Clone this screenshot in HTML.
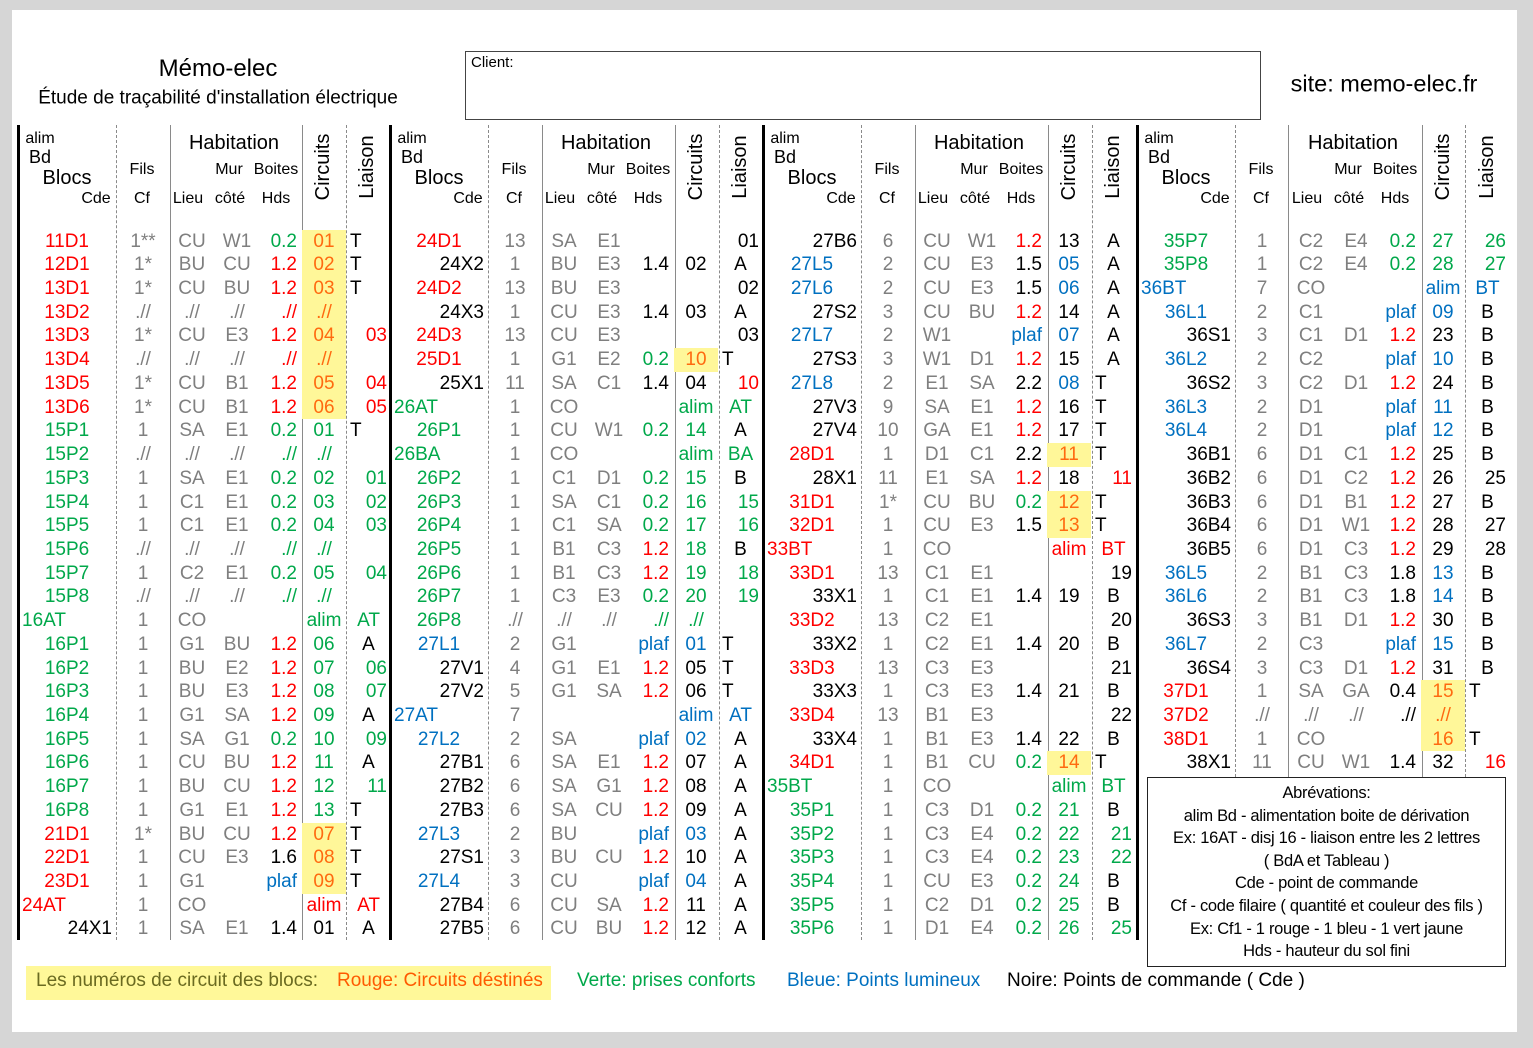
<!DOCTYPE html>
<html><head><meta charset="utf-8">
<style>
*{margin:0;padding:0;box-sizing:border-box}
html,body{width:1533px;height:1048px;background:#d6d6d6;overflow:hidden}
body{position:relative;font-family:"Liberation Sans",sans-serif;color:#000}
#pg{position:absolute;left:12px;top:10px;width:1505px;height:1022px;background:#fff}
.t{position:absolute;white-space:nowrap;transform:translate(-50%,-50%);line-height:1}
.g0{position:absolute;top:0;height:1048px;width:374px}
.vl{position:absolute;top:125px;height:815px}
.thk{width:3px;background:#000;margin-left:-1px}
.ds{border-left:1px dashed #8a8a8a}
.so{border-left:1px solid #8a8a8a}
.rows{position:absolute;top:229.6px;left:0}
.w{display:flex;height:23.72px;line-height:23.72px;font-size:19px;white-space:nowrap}
.w i{font-style:normal;display:block;height:23.72px;overflow:visible}
.a{width:98px;text-align:center}
.f{width:54px;text-align:center;color:#7f7f7f}
.l{width:44px;text-align:center;color:#7f7f7f}
.m{width:46px;text-align:center;color:#7f7f7f}
.h{width:42px;text-align:right;padding-right:5px}
.c{width:44px;text-align:center}
.z{width:45px;text-align:center}
.L{text-align:left!important;padding-left:4px}
.R{text-align:right!important;padding-right:4px}
.r{color:#ff0000}.g{color:#00a84a}.b{color:#0070c0}.k{color:#000}.o{color:#ff6a10}
.y{background:#fff799}
.rot{position:absolute;white-space:nowrap;font-size:20px;line-height:1;transform:translate(-50%,-50%) rotate(-90deg)}
</style></head><body>
<div id="pg"></div>

<div class="t" style="left:218px;top:69px;font-size:24px">Mémo-elec</div>
<div class="t" style="left:218px;top:98px;font-size:19px">Étude de traçabilité d'installation électrique</div>
<div style="position:absolute;left:465px;top:51px;width:796px;height:69px;border:1px solid #444"></div>
<div style="position:absolute;left:471px;top:55px;font-size:15px;line-height:1">Client:</div>
<div class="t" style="left:1384px;top:84px;font-size:23.5px">site: memo-elec.fr</div>

<div class="g0" style="left:18px">
<div class="vl thk" style="left:0"></div><div class="vl ds" style="left:98px"></div><div class="vl so" style="left:152px"></div><div class="vl so" style="left:284px"></div><div class="vl ds" style="left:328px"></div>
<div class="t" style="left:22px;top:139px;font-size:16px">alim</div>
<div class="t" style="left:22px;top:157px;font-size:18px">Bd</div>
<div class="t" style="left:49px;top:178px;font-size:20px">Blocs</div>
<div class="t" style="left:78px;top:199px;font-size:16px">Cde</div>
<div class="t" style="left:124px;top:170px;font-size:16px">Fils</div>
<div class="t" style="left:124px;top:199px;font-size:16px">Cf</div>
<div class="t" style="left:216px;top:143px;font-size:20px">Habitation</div>
<div class="t" style="left:211px;top:170px;font-size:16px">Mur</div>
<div class="t" style="left:258px;top:170px;font-size:16px">Boites</div>
<div class="t" style="left:170px;top:199px;font-size:16px">Lieu</div>
<div class="t" style="left:212px;top:199px;font-size:16px">côté</div>
<div class="t" style="left:258px;top:199px;font-size:16px">Hds</div>
<div class="rot" style="left:305px;top:167px">Circuits</div>
<div class="rot" style="left:349px;top:167px">Liaison</div>
<div class="rows">
<div class=w><i class="a r">11D1</i><i class=f>1**</i><i class=l>CU</i><i class=m>W1</i><i class="h g">0.2</i><i class="c o y">01</i><i class="z L">T</i></div>
<div class=w><i class="a r">12D1</i><i class=f>1*</i><i class=l>BU</i><i class=m>CU</i><i class="h r">1.2</i><i class="c o y">02</i><i class="z L">T</i></div>
<div class=w><i class="a r">13D1</i><i class=f>1*</i><i class=l>CU</i><i class=m>BU</i><i class="h r">1.2</i><i class="c o y">03</i><i class="z L">T</i></div>
<div class=w><i class="a r">13D2</i><i class=f>.//</i><i class=l>.//</i><i class=m>.//</i><i class="h r">.//</i><i class="c o y">.//</i><i class=z></i></div>
<div class=w><i class="a r">13D3</i><i class=f>1*</i><i class=l>CU</i><i class=m>E3</i><i class="h r">1.2</i><i class="c o y">04</i><i class="z R r">03</i></div>
<div class=w><i class="a r">13D4</i><i class=f>.//</i><i class=l>.//</i><i class=m>.//</i><i class="h r">.//</i><i class="c o y">.//</i><i class=z></i></div>
<div class=w><i class="a r">13D5</i><i class=f>1*</i><i class=l>CU</i><i class=m>B1</i><i class="h r">1.2</i><i class="c o y">05</i><i class="z R r">04</i></div>
<div class=w><i class="a r">13D6</i><i class=f>1*</i><i class=l>CU</i><i class=m>B1</i><i class="h r">1.2</i><i class="c o y">06</i><i class="z R r">05</i></div>
<div class=w><i class="a g">15P1</i><i class=f>1</i><i class=l>SA</i><i class=m>E1</i><i class="h g">0.2</i><i class="c g">01</i><i class="z L">T</i></div>
<div class=w><i class="a g">15P2</i><i class=f>.//</i><i class=l>.//</i><i class=m>.//</i><i class="h g">.//</i><i class="c g">.//</i><i class=z></i></div>
<div class=w><i class="a g">15P3</i><i class=f>1</i><i class=l>SA</i><i class=m>E1</i><i class="h g">0.2</i><i class="c g">02</i><i class="z R g">01</i></div>
<div class=w><i class="a g">15P4</i><i class=f>1</i><i class=l>C1</i><i class=m>E1</i><i class="h g">0.2</i><i class="c g">03</i><i class="z R g">02</i></div>
<div class=w><i class="a g">15P5</i><i class=f>1</i><i class=l>C1</i><i class=m>E1</i><i class="h g">0.2</i><i class="c g">04</i><i class="z R g">03</i></div>
<div class=w><i class="a g">15P6</i><i class=f>.//</i><i class=l>.//</i><i class=m>.//</i><i class="h g">.//</i><i class="c g">.//</i><i class=z></i></div>
<div class=w><i class="a g">15P7</i><i class=f>1</i><i class=l>C2</i><i class=m>E1</i><i class="h g">0.2</i><i class="c g">05</i><i class="z R g">04</i></div>
<div class=w><i class="a g">15P8</i><i class=f>.//</i><i class=l>.//</i><i class=m>.//</i><i class="h g">.//</i><i class="c g">.//</i><i class=z></i></div>
<div class=w><i class="a g L">16AT</i><i class=f>1</i><i class=l>CO</i><i class=m></i><i class=h></i><i class="c g">alim</i><i class="z g">AT</i></div>
<div class=w><i class="a g">16P1</i><i class=f>1</i><i class=l>G1</i><i class=m>BU</i><i class="h r">1.2</i><i class="c g">06</i><i class=z>A</i></div>
<div class=w><i class="a g">16P2</i><i class=f>1</i><i class=l>BU</i><i class=m>E2</i><i class="h r">1.2</i><i class="c g">07</i><i class="z R g">06</i></div>
<div class=w><i class="a g">16P3</i><i class=f>1</i><i class=l>BU</i><i class=m>E3</i><i class="h r">1.2</i><i class="c g">08</i><i class="z R g">07</i></div>
<div class=w><i class="a g">16P4</i><i class=f>1</i><i class=l>G1</i><i class=m>SA</i><i class="h r">1.2</i><i class="c g">09</i><i class=z>A</i></div>
<div class=w><i class="a g">16P5</i><i class=f>1</i><i class=l>SA</i><i class=m>G1</i><i class="h g">0.2</i><i class="c g">10</i><i class="z R g">09</i></div>
<div class=w><i class="a g">16P6</i><i class=f>1</i><i class=l>CU</i><i class=m>BU</i><i class="h r">1.2</i><i class="c g">11</i><i class=z>A</i></div>
<div class=w><i class="a g">16P7</i><i class=f>1</i><i class=l>BU</i><i class=m>CU</i><i class="h r">1.2</i><i class="c g">12</i><i class="z R g">11</i></div>
<div class=w><i class="a g">16P8</i><i class=f>1</i><i class=l>G1</i><i class=m>E1</i><i class="h r">1.2</i><i class="c g">13</i><i class="z L">T</i></div>
<div class=w><i class="a r">21D1</i><i class=f>1*</i><i class=l>BU</i><i class=m>CU</i><i class="h r">1.2</i><i class="c o y">07</i><i class="z L">T</i></div>
<div class=w><i class="a r">22D1</i><i class=f>1</i><i class=l>CU</i><i class=m>E3</i><i class="h k">1.6</i><i class="c o y">08</i><i class="z L">T</i></div>
<div class=w><i class="a r">23D1</i><i class=f>1</i><i class=l>G1</i><i class=m></i><i class="h b">plaf</i><i class="c o y">09</i><i class="z L">T</i></div>
<div class=w><i class="a r L">24AT</i><i class=f>1</i><i class=l>CO</i><i class=m></i><i class=h></i><i class="c r">alim</i><i class="z r">AT</i></div>
<div class=w><i class="a R">24X1</i><i class=f>1</i><i class=l>SA</i><i class=m>E1</i><i class=h>1.4</i><i class=c>01</i><i class=z>A</i></div>
</div></div>

<div class="g0" style="left:390px">
<div class="vl thk" style="left:0"></div><div class="vl ds" style="left:98px"></div><div class="vl so" style="left:152px"></div><div class="vl so" style="left:285px"></div><div class="vl ds" style="left:329px"></div>
<div class="t" style="left:22px;top:139px;font-size:16px">alim</div>
<div class="t" style="left:22px;top:157px;font-size:18px">Bd</div>
<div class="t" style="left:49px;top:178px;font-size:20px">Blocs</div>
<div class="t" style="left:78px;top:199px;font-size:16px">Cde</div>
<div class="t" style="left:124px;top:170px;font-size:16px">Fils</div>
<div class="t" style="left:124px;top:199px;font-size:16px">Cf</div>
<div class="t" style="left:216px;top:143px;font-size:20px">Habitation</div>
<div class="t" style="left:211px;top:170px;font-size:16px">Mur</div>
<div class="t" style="left:258px;top:170px;font-size:16px">Boites</div>
<div class="t" style="left:170px;top:199px;font-size:16px">Lieu</div>
<div class="t" style="left:212px;top:199px;font-size:16px">côté</div>
<div class="t" style="left:258px;top:199px;font-size:16px">Hds</div>
<div class="rot" style="left:306px;top:167px">Circuits</div>
<div class="rot" style="left:350px;top:167px">Liaison</div>
<div class="rows">
<div class=w><i class="a r">24D1</i><i class=f>13</i><i class=l>SA</i><i class=m>E1</i><i class=h></i><i class=c></i><i class="z R">01</i></div>
<div class=w><i class="a R">24X2</i><i class=f>1</i><i class=l>BU</i><i class=m>E3</i><i class=h>1.4</i><i class=c>02</i><i class=z>A</i></div>
<div class=w><i class="a r">24D2</i><i class=f>13</i><i class=l>BU</i><i class=m>E3</i><i class=h></i><i class=c></i><i class="z R">02</i></div>
<div class=w><i class="a R">24X3</i><i class=f>1</i><i class=l>CU</i><i class=m>E3</i><i class=h>1.4</i><i class=c>03</i><i class=z>A</i></div>
<div class=w><i class="a r">24D3</i><i class=f>13</i><i class=l>CU</i><i class=m>E3</i><i class=h></i><i class=c></i><i class="z R">03</i></div>
<div class=w><i class="a r">25D1</i><i class=f>1</i><i class=l>G1</i><i class=m>E2</i><i class="h g">0.2</i><i class="c o y">10</i><i class="z L">T</i></div>
<div class=w><i class="a R">25X1</i><i class=f>11</i><i class=l>SA</i><i class=m>C1</i><i class=h>1.4</i><i class=c>04</i><i class="z R r">10</i></div>
<div class=w><i class="a g L">26AT</i><i class=f>1</i><i class=l>CO</i><i class=m></i><i class=h></i><i class="c g">alim</i><i class="z g">AT</i></div>
<div class=w><i class="a g">26P1</i><i class=f>1</i><i class=l>CU</i><i class=m>W1</i><i class="h g">0.2</i><i class="c g">14</i><i class=z>A</i></div>
<div class=w><i class="a g L">26BA</i><i class=f>1</i><i class=l>CO</i><i class=m></i><i class=h></i><i class="c g">alim</i><i class="z g">BA</i></div>
<div class=w><i class="a g">26P2</i><i class=f>1</i><i class=l>C1</i><i class=m>D1</i><i class="h g">0.2</i><i class="c g">15</i><i class=z>B</i></div>
<div class=w><i class="a g">26P3</i><i class=f>1</i><i class=l>SA</i><i class=m>C1</i><i class="h g">0.2</i><i class="c g">16</i><i class="z R g">15</i></div>
<div class=w><i class="a g">26P4</i><i class=f>1</i><i class=l>C1</i><i class=m>SA</i><i class="h g">0.2</i><i class="c g">17</i><i class="z R g">16</i></div>
<div class=w><i class="a g">26P5</i><i class=f>1</i><i class=l>B1</i><i class=m>C3</i><i class="h r">1.2</i><i class="c g">18</i><i class=z>B</i></div>
<div class=w><i class="a g">26P6</i><i class=f>1</i><i class=l>B1</i><i class=m>C3</i><i class="h r">1.2</i><i class="c g">19</i><i class="z R g">18</i></div>
<div class=w><i class="a g">26P7</i><i class=f>1</i><i class=l>C3</i><i class=m>E3</i><i class="h g">0.2</i><i class="c g">20</i><i class="z R g">19</i></div>
<div class=w><i class="a g">26P8</i><i class=f>.//</i><i class=l>.//</i><i class=m>.//</i><i class="h g">.//</i><i class="c g">.//</i><i class=z></i></div>
<div class=w><i class="a b">27L1</i><i class=f>2</i><i class=l>G1</i><i class=m></i><i class="h b">plaf</i><i class="c b">01</i><i class="z L">T</i></div>
<div class=w><i class="a R">27V1</i><i class=f>4</i><i class=l>G1</i><i class=m>E1</i><i class="h r">1.2</i><i class=c>05</i><i class="z L">T</i></div>
<div class=w><i class="a R">27V2</i><i class=f>5</i><i class=l>G1</i><i class=m>SA</i><i class="h r">1.2</i><i class=c>06</i><i class="z L">T</i></div>
<div class=w><i class="a b L">27AT</i><i class=f>7</i><i class=l></i><i class=m></i><i class=h></i><i class="c b">alim</i><i class="z b">AT</i></div>
<div class=w><i class="a b">27L2</i><i class=f>2</i><i class=l>SA</i><i class=m></i><i class="h b">plaf</i><i class="c b">02</i><i class=z>A</i></div>
<div class=w><i class="a R">27B1</i><i class=f>6</i><i class=l>SA</i><i class=m>E1</i><i class="h r">1.2</i><i class=c>07</i><i class=z>A</i></div>
<div class=w><i class="a R">27B2</i><i class=f>6</i><i class=l>SA</i><i class=m>G1</i><i class="h r">1.2</i><i class=c>08</i><i class=z>A</i></div>
<div class=w><i class="a R">27B3</i><i class=f>6</i><i class=l>SA</i><i class=m>CU</i><i class="h r">1.2</i><i class=c>09</i><i class=z>A</i></div>
<div class=w><i class="a b">27L3</i><i class=f>2</i><i class=l>BU</i><i class=m></i><i class="h b">plaf</i><i class="c b">03</i><i class=z>A</i></div>
<div class=w><i class="a R">27S1</i><i class=f>3</i><i class=l>BU</i><i class=m>CU</i><i class="h r">1.2</i><i class=c>10</i><i class=z>A</i></div>
<div class=w><i class="a b">27L4</i><i class=f>3</i><i class=l>CU</i><i class=m></i><i class="h b">plaf</i><i class="c b">04</i><i class=z>A</i></div>
<div class=w><i class="a R">27B4</i><i class=f>6</i><i class=l>CU</i><i class=m>SA</i><i class="h r">1.2</i><i class=c>11</i><i class=z>A</i></div>
<div class=w><i class="a R">27B5</i><i class=f>6</i><i class=l>CU</i><i class=m>BU</i><i class="h r">1.2</i><i class=c>12</i><i class=z>A</i></div>
</div></div>

<div class="g0" style="left:763px">
<div class="vl thk" style="left:0"></div><div class="vl ds" style="left:98px"></div><div class="vl so" style="left:152px"></div><div class="vl so" style="left:285px"></div><div class="vl ds" style="left:329px"></div>
<div class="t" style="left:22px;top:139px;font-size:16px">alim</div>
<div class="t" style="left:22px;top:157px;font-size:18px">Bd</div>
<div class="t" style="left:49px;top:178px;font-size:20px">Blocs</div>
<div class="t" style="left:78px;top:199px;font-size:16px">Cde</div>
<div class="t" style="left:124px;top:170px;font-size:16px">Fils</div>
<div class="t" style="left:124px;top:199px;font-size:16px">Cf</div>
<div class="t" style="left:216px;top:143px;font-size:20px">Habitation</div>
<div class="t" style="left:211px;top:170px;font-size:16px">Mur</div>
<div class="t" style="left:258px;top:170px;font-size:16px">Boites</div>
<div class="t" style="left:170px;top:199px;font-size:16px">Lieu</div>
<div class="t" style="left:212px;top:199px;font-size:16px">côté</div>
<div class="t" style="left:258px;top:199px;font-size:16px">Hds</div>
<div class="rot" style="left:306px;top:167px">Circuits</div>
<div class="rot" style="left:350px;top:167px">Liaison</div>
<div class="rows">
<div class=w><i class="a R">27B6</i><i class=f>6</i><i class=l>CU</i><i class=m>W1</i><i class="h r">1.2</i><i class=c>13</i><i class=z>A</i></div>
<div class=w><i class="a b">27L5</i><i class=f>2</i><i class=l>CU</i><i class=m>E3</i><i class=h>1.5</i><i class="c b">05</i><i class=z>A</i></div>
<div class=w><i class="a b">27L6</i><i class=f>2</i><i class=l>CU</i><i class=m>E3</i><i class=h>1.5</i><i class="c b">06</i><i class=z>A</i></div>
<div class=w><i class="a R">27S2</i><i class=f>3</i><i class=l>CU</i><i class=m>BU</i><i class="h r">1.2</i><i class=c>14</i><i class=z>A</i></div>
<div class=w><i class="a b">27L7</i><i class=f>2</i><i class=l>W1</i><i class=m></i><i class="h b">plaf</i><i class="c b">07</i><i class=z>A</i></div>
<div class=w><i class="a R">27S3</i><i class=f>3</i><i class=l>W1</i><i class=m>D1</i><i class="h r">1.2</i><i class=c>15</i><i class=z>A</i></div>
<div class=w><i class="a b">27L8</i><i class=f>2</i><i class=l>E1</i><i class=m>SA</i><i class=h>2.2</i><i class="c b">08</i><i class="z L">T</i></div>
<div class=w><i class="a R">27V3</i><i class=f>9</i><i class=l>SA</i><i class=m>E1</i><i class="h r">1.2</i><i class=c>16</i><i class="z L">T</i></div>
<div class=w><i class="a R">27V4</i><i class=f>10</i><i class=l>GA</i><i class=m>E1</i><i class="h r">1.2</i><i class=c>17</i><i class="z L">T</i></div>
<div class=w><i class="a r">28D1</i><i class=f>1</i><i class=l>D1</i><i class=m>C1</i><i class=h>2.2</i><i class="c o y">11</i><i class="z L">T</i></div>
<div class=w><i class="a R">28X1</i><i class=f>11</i><i class=l>E1</i><i class=m>SA</i><i class="h r">1.2</i><i class=c>18</i><i class="z R r">11</i></div>
<div class=w><i class="a r">31D1</i><i class=f>1*</i><i class=l>CU</i><i class=m>BU</i><i class="h g">0.2</i><i class="c o y">12</i><i class="z L">T</i></div>
<div class=w><i class="a r">32D1</i><i class=f>1</i><i class=l>CU</i><i class=m>E3</i><i class=h>1.5</i><i class="c o y">13</i><i class="z L">T</i></div>
<div class=w><i class="a r L">33BT</i><i class=f>1</i><i class=l>CO</i><i class=m></i><i class=h></i><i class="c r">alim</i><i class="z r">BT</i></div>
<div class=w><i class="a r">33D1</i><i class=f>13</i><i class=l>C1</i><i class=m>E1</i><i class=h></i><i class=c></i><i class="z R">19</i></div>
<div class=w><i class="a R">33X1</i><i class=f>1</i><i class=l>C1</i><i class=m>E1</i><i class=h>1.4</i><i class=c>19</i><i class=z>B</i></div>
<div class=w><i class="a r">33D2</i><i class=f>13</i><i class=l>C2</i><i class=m>E1</i><i class=h></i><i class=c></i><i class="z R">20</i></div>
<div class=w><i class="a R">33X2</i><i class=f>1</i><i class=l>C2</i><i class=m>E1</i><i class=h>1.4</i><i class=c>20</i><i class=z>B</i></div>
<div class=w><i class="a r">33D3</i><i class=f>13</i><i class=l>C3</i><i class=m>E3</i><i class=h></i><i class=c></i><i class="z R">21</i></div>
<div class=w><i class="a R">33X3</i><i class=f>1</i><i class=l>C3</i><i class=m>E3</i><i class=h>1.4</i><i class=c>21</i><i class=z>B</i></div>
<div class=w><i class="a r">33D4</i><i class=f>13</i><i class=l>B1</i><i class=m>E3</i><i class=h></i><i class=c></i><i class="z R">22</i></div>
<div class=w><i class="a R">33X4</i><i class=f>1</i><i class=l>B1</i><i class=m>E3</i><i class=h>1.4</i><i class=c>22</i><i class=z>B</i></div>
<div class=w><i class="a r">34D1</i><i class=f>1</i><i class=l>B1</i><i class=m>CU</i><i class="h g">0.2</i><i class="c o y">14</i><i class="z L">T</i></div>
<div class=w><i class="a g L">35BT</i><i class=f>1</i><i class=l>CO</i><i class=m></i><i class=h></i><i class="c g">alim</i><i class="z g">BT</i></div>
<div class=w><i class="a g">35P1</i><i class=f>1</i><i class=l>C3</i><i class=m>D1</i><i class="h g">0.2</i><i class="c g">21</i><i class=z>B</i></div>
<div class=w><i class="a g">35P2</i><i class=f>1</i><i class=l>C3</i><i class=m>E4</i><i class="h g">0.2</i><i class="c g">22</i><i class="z R g">21</i></div>
<div class=w><i class="a g">35P3</i><i class=f>1</i><i class=l>C3</i><i class=m>E4</i><i class="h g">0.2</i><i class="c g">23</i><i class="z R g">22</i></div>
<div class=w><i class="a g">35P4</i><i class=f>1</i><i class=l>CU</i><i class=m>E3</i><i class="h g">0.2</i><i class="c g">24</i><i class=z>B</i></div>
<div class=w><i class="a g">35P5</i><i class=f>1</i><i class=l>C2</i><i class=m>D1</i><i class="h g">0.2</i><i class="c g">25</i><i class=z>B</i></div>
<div class=w><i class="a g">35P6</i><i class=f>1</i><i class=l>D1</i><i class=m>E4</i><i class="h g">0.2</i><i class="c g">26</i><i class="z R g">25</i></div>
</div></div>

<div class="g0" style="left:1137px">
<div class="vl thk" style="left:0"></div>
<div class="vl ds" style="left:98px;height:652px"></div><div class="vl so" style="left:151px;height:652px"></div><div class="vl so" style="left:285px;height:652px"></div><div class="vl ds" style="left:328px;height:652px"></div>
<div class="t" style="left:22px;top:139px;font-size:16px">alim</div>
<div class="t" style="left:22px;top:157px;font-size:18px">Bd</div>
<div class="t" style="left:49px;top:178px;font-size:20px">Blocs</div>
<div class="t" style="left:78px;top:199px;font-size:16px">Cde</div>
<div class="t" style="left:124px;top:170px;font-size:16px">Fils</div>
<div class="t" style="left:124px;top:199px;font-size:16px">Cf</div>
<div class="t" style="left:216px;top:143px;font-size:20px">Habitation</div>
<div class="t" style="left:211px;top:170px;font-size:16px">Mur</div>
<div class="t" style="left:258px;top:170px;font-size:16px">Boites</div>
<div class="t" style="left:170px;top:199px;font-size:16px">Lieu</div>
<div class="t" style="left:212px;top:199px;font-size:16px">côté</div>
<div class="t" style="left:258px;top:199px;font-size:16px">Hds</div>
<div class="rot" style="left:306px;top:167px">Circuits</div>
<div class="rot" style="left:350px;top:167px">Liaison</div>
<div class="rows">
<div class=w><i class="a g">35P7</i><i class=f>1</i><i class=l>C2</i><i class=m>E4</i><i class="h g">0.2</i><i class="c g">27</i><i class="z R g">26</i></div>
<div class=w><i class="a g">35P8</i><i class=f>1</i><i class=l>C2</i><i class=m>E4</i><i class="h g">0.2</i><i class="c g">28</i><i class="z R g">27</i></div>
<div class=w><i class="a b L">36BT</i><i class=f>7</i><i class=l>CO</i><i class=m></i><i class=h></i><i class="c b">alim</i><i class="z b">BT</i></div>
<div class=w><i class="a b">36L1</i><i class=f>2</i><i class=l>C1</i><i class=m></i><i class="h b">plaf</i><i class="c b">09</i><i class=z>B</i></div>
<div class=w><i class="a R">36S1</i><i class=f>3</i><i class=l>C1</i><i class=m>D1</i><i class="h r">1.2</i><i class=c>23</i><i class=z>B</i></div>
<div class=w><i class="a b">36L2</i><i class=f>2</i><i class=l>C2</i><i class=m></i><i class="h b">plaf</i><i class="c b">10</i><i class=z>B</i></div>
<div class=w><i class="a R">36S2</i><i class=f>3</i><i class=l>C2</i><i class=m>D1</i><i class="h r">1.2</i><i class=c>24</i><i class=z>B</i></div>
<div class=w><i class="a b">36L3</i><i class=f>2</i><i class=l>D1</i><i class=m></i><i class="h b">plaf</i><i class="c b">11</i><i class=z>B</i></div>
<div class=w><i class="a b">36L4</i><i class=f>2</i><i class=l>D1</i><i class=m></i><i class="h b">plaf</i><i class="c b">12</i><i class=z>B</i></div>
<div class=w><i class="a R">36B1</i><i class=f>6</i><i class=l>D1</i><i class=m>C1</i><i class="h r">1.2</i><i class=c>25</i><i class=z>B</i></div>
<div class=w><i class="a R">36B2</i><i class=f>6</i><i class=l>D1</i><i class=m>C2</i><i class="h r">1.2</i><i class=c>26</i><i class="z R">25</i></div>
<div class=w><i class="a R">36B3</i><i class=f>6</i><i class=l>D1</i><i class=m>B1</i><i class="h r">1.2</i><i class=c>27</i><i class=z>B</i></div>
<div class=w><i class="a R">36B4</i><i class=f>6</i><i class=l>D1</i><i class=m>W1</i><i class="h r">1.2</i><i class=c>28</i><i class="z R">27</i></div>
<div class=w><i class="a R">36B5</i><i class=f>6</i><i class=l>D1</i><i class=m>C3</i><i class="h r">1.2</i><i class=c>29</i><i class="z R">28</i></div>
<div class=w><i class="a b">36L5</i><i class=f>2</i><i class=l>B1</i><i class=m>C3</i><i class=h>1.8</i><i class="c b">13</i><i class=z>B</i></div>
<div class=w><i class="a b">36L6</i><i class=f>2</i><i class=l>B1</i><i class=m>C3</i><i class=h>1.8</i><i class="c b">14</i><i class=z>B</i></div>
<div class=w><i class="a R">36S3</i><i class=f>3</i><i class=l>B1</i><i class=m>D1</i><i class="h r">1.2</i><i class=c>30</i><i class=z>B</i></div>
<div class=w><i class="a b">36L7</i><i class=f>2</i><i class=l>C3</i><i class=m></i><i class="h b">plaf</i><i class="c b">15</i><i class=z>B</i></div>
<div class=w><i class="a R">36S4</i><i class=f>3</i><i class=l>C3</i><i class=m>D1</i><i class="h r">1.2</i><i class=c>31</i><i class=z>B</i></div>
<div class=w><i class="a r">37D1</i><i class=f>1</i><i class=l>SA</i><i class=m>GA</i><i class=h>0.4</i><i class="c o y">15</i><i class="z L">T</i></div>
<div class=w><i class="a r">37D2</i><i class=f>.//</i><i class=l>.//</i><i class=m>.//</i><i class=h>.//</i><i class="c o y">.//</i><i class=z></i></div>
<div class=w><i class="a r">38D1</i><i class=f>1</i><i class=l>CO</i><i class=m></i><i class=h></i><i class="c o y">16</i><i class="z L">T</i></div>
<div class=w><i class="a R">38X1</i><i class=f>11</i><i class=l>CU</i><i class=m>W1</i><i class=h>1.4</i><i class=c>32</i><i class="z R r">16</i></div>
</div></div>

<div style="position:absolute;left:1147px;top:777px;width:359px;height:190px;border:1.5px solid #222;background:#fff;font-size:16.5px;text-align:center;line-height:22.6px;padding-top:4px;white-space:nowrap;letter-spacing:-0.3px">
<div>Abrévations:</div>
<div>alim Bd - alimentation boite de dérivation</div>
<div>Ex: 16AT - disj 16 - liaison entre les 2 lettres</div>
<div>( BdA et Tableau )</div>
<div>Cde - point de commande</div>
<div>Cf - code filaire ( quantité et couleur des fils )</div>
<div>Ex: Cf1 - 1 rouge - 1 bleu - 1 vert jaune</div>
<div>Hds - hauteur du sol fini</div>
</div>

<div style="position:absolute;left:26px;top:966px;width:525px;height:34px;background:#fff899"></div>
<div style="position:absolute;left:36px;top:970px;font-size:19px;line-height:22px;color:#6a6a20;white-space:nowrap">Les numéros de circuit des blocs:</div>
<div style="position:absolute;left:337px;top:970px;font-size:19px;line-height:22px;color:#ff5a00;white-space:nowrap">Rouge: Circuits déstinés</div>
<div style="position:absolute;left:577px;top:970px;font-size:19px;line-height:22px;color:#00a84a;white-space:nowrap">Verte: prises conforts</div>
<div style="position:absolute;left:787px;top:970px;font-size:19px;line-height:22px;color:#0070c0;white-space:nowrap">Bleue: Points lumineux</div>
<div style="position:absolute;left:1007px;top:970px;font-size:19px;line-height:22px;color:#000;white-space:nowrap">Noire: Points de commande ( Cde )</div>
</body></html>
